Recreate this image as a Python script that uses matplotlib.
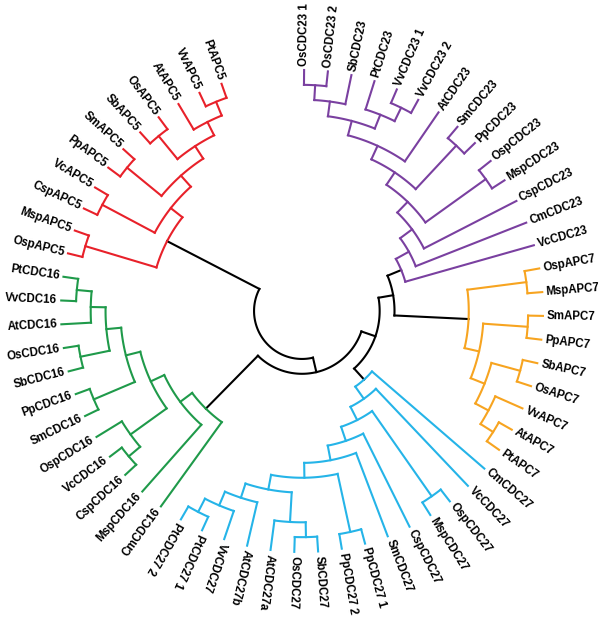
import numpy as np
import matplotlib
matplotlib.use('Agg')
import matplotlib.pyplot as plt

plt.rcParams['font.family'] = ['Liberation Sans', 'DejaVu Sans']

# subtrees, leaves listed counter-clockwise
apc5 = [[[[[["PtAPC5", "VvAPC5"], "AtAPC5"], ["OsAPC5", "SbAPC5"]],
          ["SmAPC5", "PpAPC5"]], ["VcAPC5", "CspAPC5"]], ["MspAPC5", "OspAPC5"]]
cdc16 = [[[[[[["PtCDC16", "VvCDC16"], "AtCDC16"], ["OsCDC16", "SbCDC16"]],
            ["PpCDC16", "SmCDC16"]], ["OspCDC16", ["VcCDC16", "CspCDC16"]]],
          "MspCDC16"], "CmCDC16"]
cdc27 = [[[[[[[[[["PtCDC27 2", "PtCDC27 1"], "VvCDC27"], "AtCDC27b"],
               ["AtCDC27a", ["OsCDC27", "SbCDC27"]]], ["PpCDC27 2", "PpCDC27 1"]],
             "SmCDC27"], "CspCDC27"], ["MspCDC27", "OspCDC27"]], "VcCDC27"], "CmCDC27"]
apc7 = [[[[["PtAPC7", "AtAPC7"], "VvAPC7"], ["OsAPC7", "SbAPC7"]],
         ["PpAPC7", "SmAPC7"]], ["MspAPC7", "OspAPC7"]]
cdc23 = ["VcCDC23", ["CmCDC23", ["CspCDC23", [["MspCDC23", "OspCDC23"],
         [["PpCDC23", "SmCDC23"], ["AtCDC23", [[["VvCDC23 2", "VvCDC23 1"], "PtCDC23"],
                                               ["SbCDC23", ["OsCDC23 2", "OsCDC23 1"]]]]]]]]]

tree = [apc5, [cdc16, [cdc27, [apc7, cdc23]]]]
clades = [apc5, cdc16, cdc27, apc7, cdc23]
clade_colors = ['#e8212a', '#1f9a4a', '#25b4e8', '#f7a420', '#7a40a0']

cx, cy = 302, 311      # centre in pixels
r_tip = 241
step = 14.85
a0 = 109.5
da = 340 / 60

pos = {}
count = [0]


def layout(node):
    if isinstance(node, str):
        a = a0 + da * count[0]
        count[0] += 1
        pos[id(node)] = (a, 0)
        return a, 0
    kids = [layout(k) for k in node]
    a = (kids[0][0] + kids[-1][0]) / 2
    h = max(k[1] for k in kids) + 1
    pos[id(node)] = (a, h)
    return a, h


layout(tree)


def xy(a, r):
    t = np.radians(a)
    return cx + r * np.cos(t), cy - r * np.sin(t)


fig = plt.figure(figsize=(6, 6.18), dpi=100)
ax = fig.add_axes([0, 0, 1, 1])
ax.set_xlim(0, 600)
ax.set_ylim(618, 0)
ax.axis('off')

cmap = {id(c): col for c, col in zip(clades, clade_colors)}
lw = 1.5


def draw(node, col):
    col = cmap.get(id(node), col)
    a, h = pos[id(node)]
    r = r_tip - step * h
    if isinstance(node, str):
        aa = a % 360
        flip = 95 < aa < 238
        x, y = xy(a, r_tip + 4)
        rot = aa - 180 if flip else (aa if aa <= 180 else aa - 360)
        ax.text(x, y, node, rotation=rot, rotation_mode='anchor',
                ha='right' if flip else 'left', va='center',
                fontsize=8.3, fontweight='bold', color='black')
        return
    angs = [pos[id(k)][0] for k in node]
    t = np.linspace(min(angs), max(angs), 80)
    ax.plot(*xy(t, r), color=col, lw=lw)
    for k in node:
        ak, hk = pos[id(k)]
        rk = r_tip - step * hk
        ax.plot(*xy(np.array([ak, ak]), np.array([r, rk])), color=col, lw=lw)
        draw(k, col)


draw(tree, 'black')

fig.savefig('out.png', dpi=100)
